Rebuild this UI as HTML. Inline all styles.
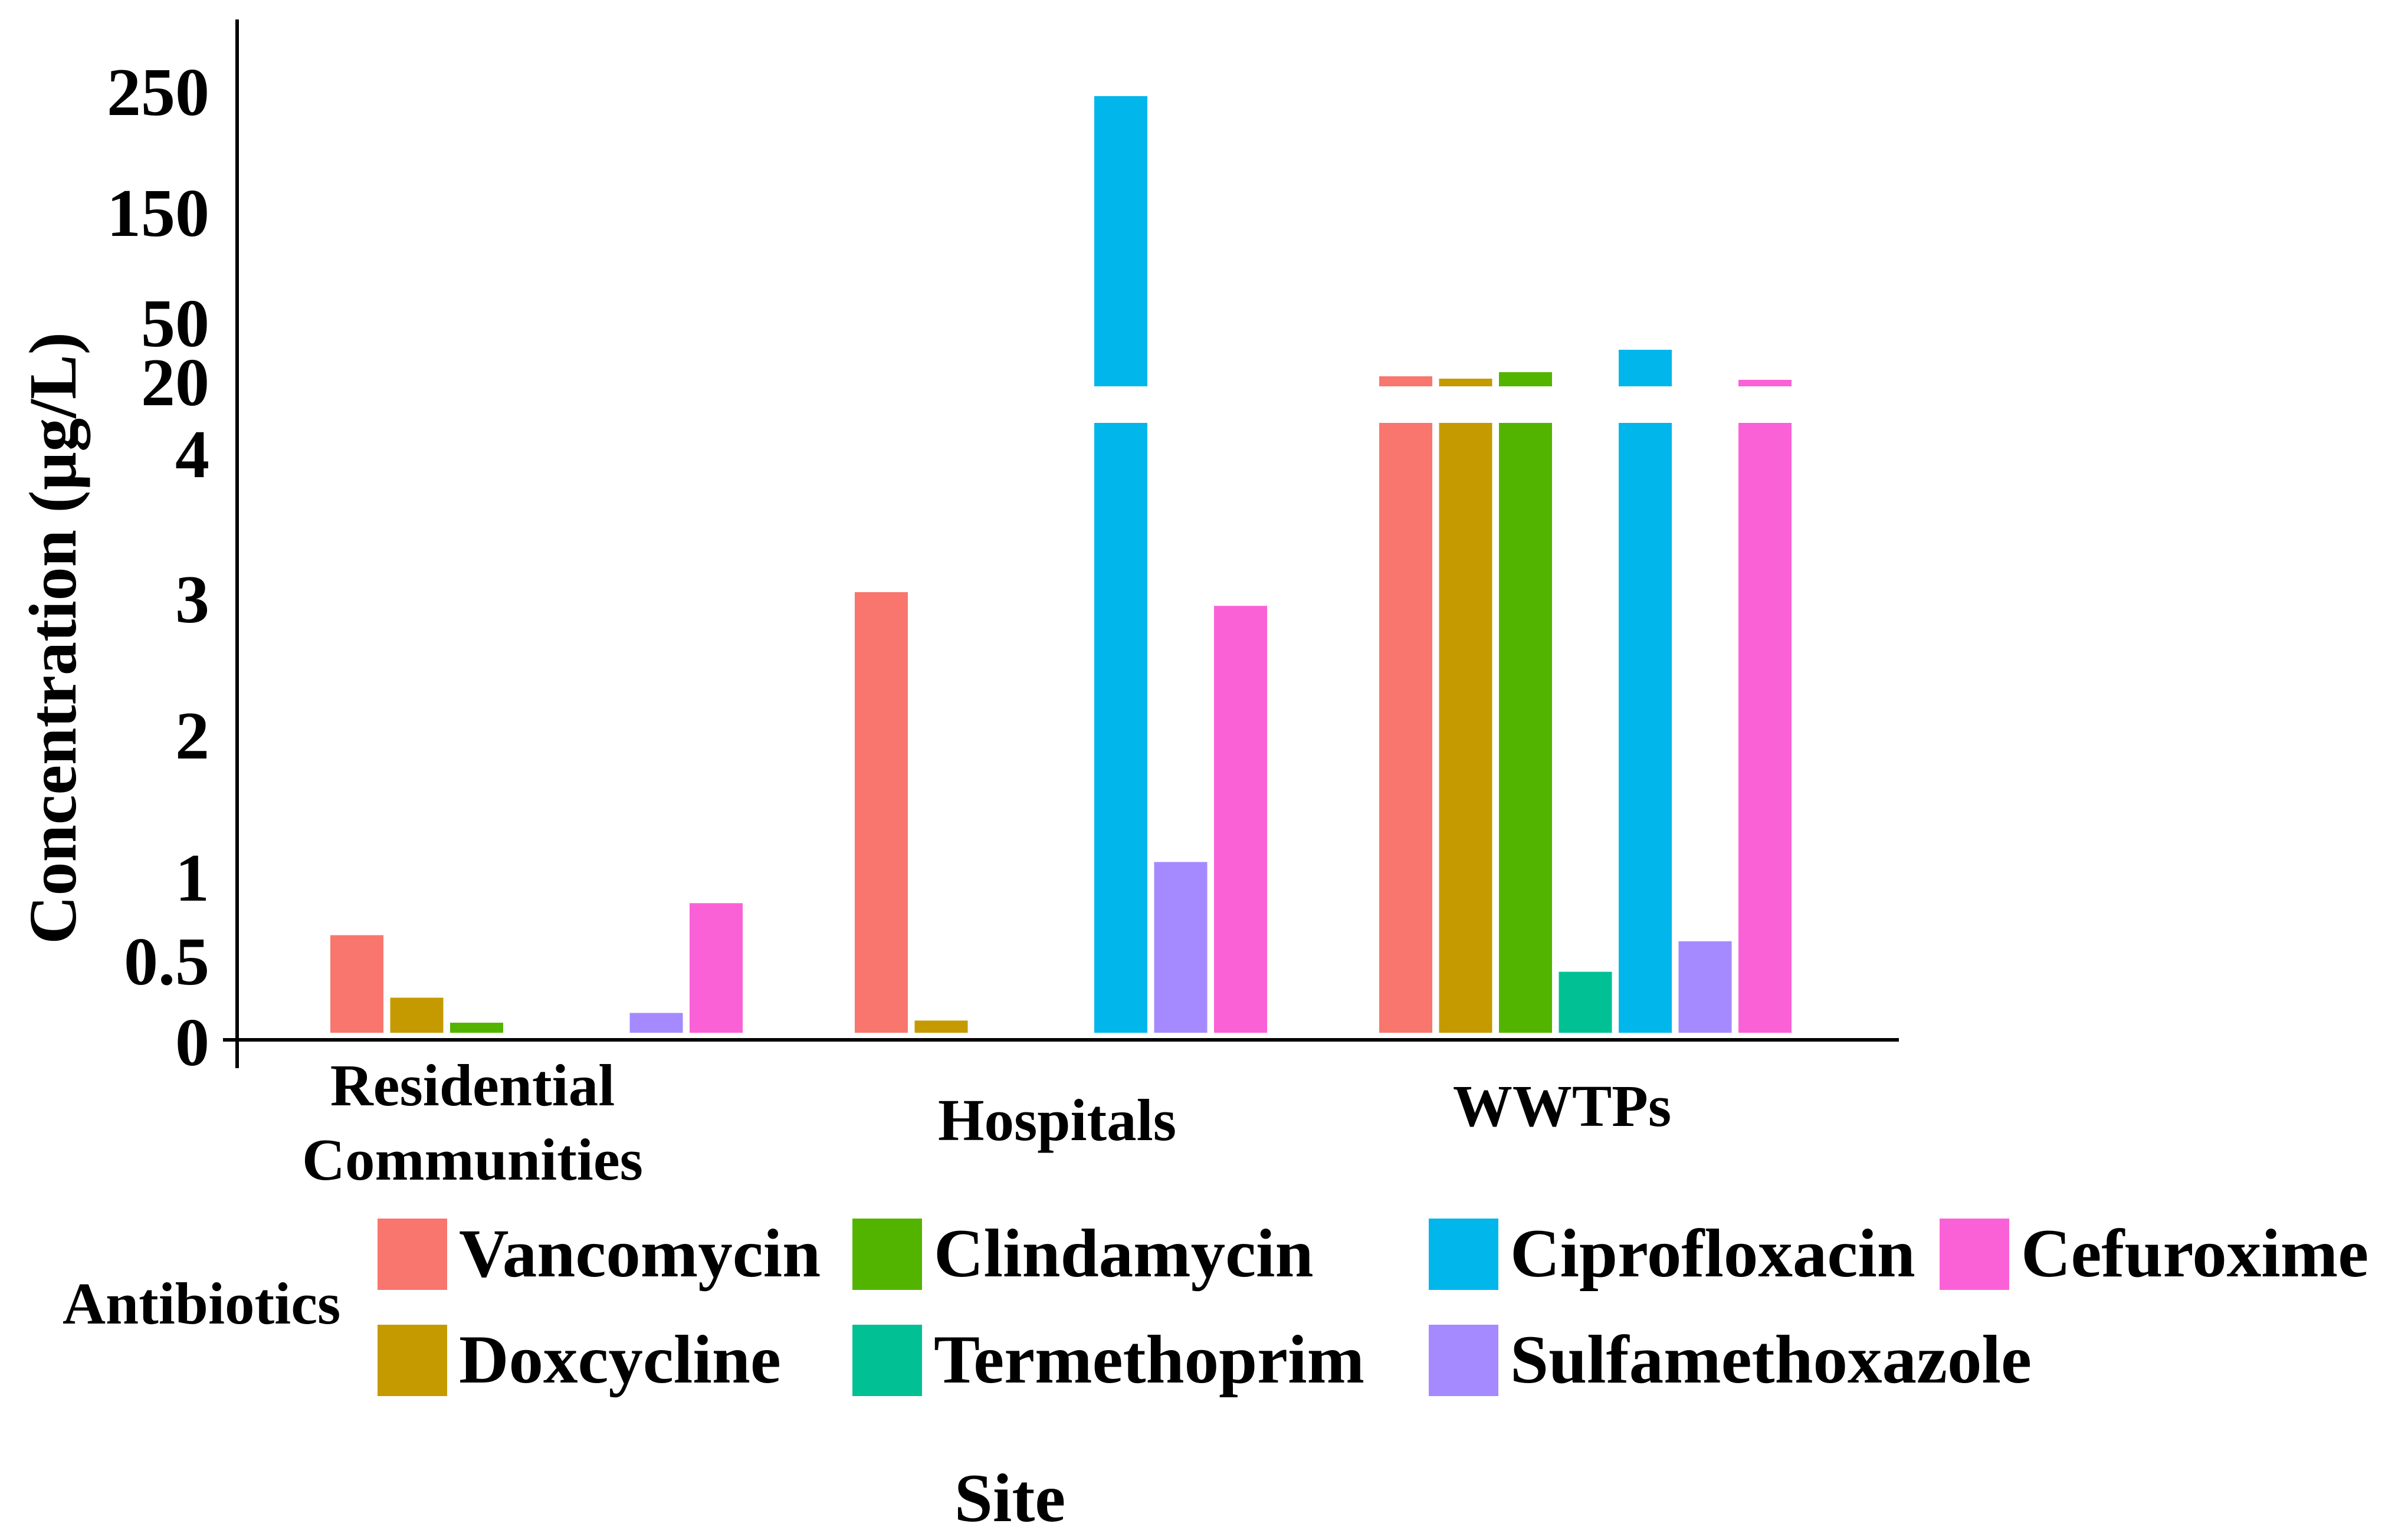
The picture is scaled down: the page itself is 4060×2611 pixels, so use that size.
<!DOCTYPE html>
<html><head><meta charset="utf-8">
<style>
html,body{margin:0;padding:0;background:#fff;}
svg{display:block;}
text{font-family:"Liberation Serif","DejaVu Serif",serif;font-weight:bold;fill:#000;}
</style></head>
<body>
<svg id="chart" width="4060" height="2611" viewBox="0 0 4060 2611" xmlns="http://www.w3.org/2000/svg">
<rect width="4060" height="2611" fill="#fff"/>
<g id="bars"></g>
<line x1="402" y1="33" x2="402" y2="1811" stroke="#000" stroke-width="6"/>
<line x1="378" y1="1763" x2="3219" y2="1763" stroke="#000" stroke-width="6"/>
<g id="yticks"></g>
<g id="xticks"></g>
<text transform="translate(128,1082) rotate(-90)" text-anchor="middle" font-size="114">Concentration (µg/L)</text>
<text x="1712" y="2579" text-anchor="middle" font-size="117">Site</text>
<g id="legend">
<text x="106" y="2244" font-size="101">Antibiotics</text>
</g>
</svg>
<script>
const categories = ["Residential|Communities", "Hospitals", "WWTPs"];
const antibiotics = ["Vancomycin","Doxcycline","Clindamycin","Termethoprim","Ciprofloxacin","Sulfamethoxazole","Cefuroxime"];
const colors = ["#F8766D","#C49A00","#53B400","#00C094","#00B6EB","#A58AFF","#FB61D7"];
// values per antibiotic across [Residential, Hospitals, WWTPs]; null = not detected
const vancomycin = [0.64, 2.89, 25.1];
const doxcycline = [0.23, 0.08, 23.9];
const clindamycin = [0.066, null, 27.2];
const termethoprim = [null, null, 0.40];
const ciprofloxacin = [null, 250, 38.6];
const sulfamethoxazole = [0.13, 1.12, 0.60];
const cefuroxime = [0.85, 2.80, 23.3];
const series = [vancomycin, doxcycline, clindamycin, termethoprim, ciprofloxacin, sulfamethoxazole, cefuroxime];
const lowerTicks = [0, 0.5, 1, 2, 3, 4];
const upperTicks = [20, 50, 150, 250];

const NS = "http://www.w3.org/2000/svg";
function yLow(v){ return 1751 - v * 258.5; }
// label placement on the hand-drawn axis (piecewise)
const lowerLabelPos = [1768, 1631, 1489, 1248, 1017, 771];
function interp(v, ticks, pos){
  for (let i = 0; i < ticks.length - 1; i++) {
    const a = ticks[i], b = ticks[i+1];
    if (v <= b || i === ticks.length - 2) return pos[i] + (v - a) / (b - a) * (pos[i+1] - pos[i]);
  }
}
function yLowLabel(v){ return interp(v, lowerTicks, lowerLabelPos); }
const upperPos = [655, 555, 368, 163];
function yUp(v){ return interp(v, upperTicks, upperPos); }
function xBar(ci, si){ return 560 + ci * 889 + si * 101.5; }
const barW = 90;

const gb = document.getElementById('bars');
function rect(x,y,w,h,fill){
  const r = document.createElementNS(NS,'rect');
  r.setAttribute('x',x); r.setAttribute('y',y);
  r.setAttribute('width',w); r.setAttribute('height',Math.max(h,0));
  r.setAttribute('fill',fill);
  return r;
}
series.forEach((vals, si) => {
  vals.forEach((v, ci) => {
    if (v == null) return;
    const x = xBar(ci, si);
    if (v <= 4) {
      const r = rect(x, yLow(v), barW, 1751 - yLow(v), colors[si]);
      
      
      gb.appendChild(r);
    } else {
      const r1 = rect(x, yLow(4), barW, 1751 - yLow(4), colors[si]);
      
      
      gb.appendChild(r1);
      const r2 = rect(x, yUp(v), barW, 655 - yUp(v), colors[si]);
      
      
      gb.appendChild(r2);
    }
  });
});

const gy = document.getElementById('yticks');
function tlabel(txt, y){
  const t = document.createElementNS(NS,'text');
  t.setAttribute('x', 355); t.setAttribute('y', y + 38);
  t.setAttribute('text-anchor','end'); t.setAttribute('font-size','116');
  t.textContent = txt;
  
  
  gy.appendChild(t);
}
lowerTicks.forEach(v => tlabel(String(v), yLowLabel(v)));
upperTicks.forEach(v => tlabel(String(v), yUp(v) - 6));

const gx = document.getElementById('xticks');
const catCenters = [801, 1792, 2648];
const catBase = [[1874, 2000], [1933], [1909]];
categories.forEach((c, i) => {
  c.split('|').forEach((line, j) => {
    const t = document.createElementNS(NS,'text');
    t.setAttribute('x', catCenters[i]);
    t.setAttribute('y', catBase[i][j]);
    t.setAttribute('text-anchor','middle');
    t.setAttribute('font-size','101');
    t.textContent = line;
    
    
    gx.appendChild(t);
  });
});

const gl = document.getElementById('legend');
const legendPos = [[640,2066],[640,2246],[1445,2066],[1445,2246],[2422,2066],[2422,2246],[3288,2066]];
antibiotics.forEach((a, i) => {
  const [x, y] = legendPos[i];
  const r = rect(x, y, 118, 121, colors[i]);
  
  
  gl.appendChild(r);
  const t = document.createElementNS(NS,'text');
  t.setAttribute('x', x + 138);
  t.setAttribute('y', y + 98);
  t.setAttribute('font-size','117');
  t.textContent = a;
  
  
  gl.appendChild(t);
});
</script>
</body></html>
